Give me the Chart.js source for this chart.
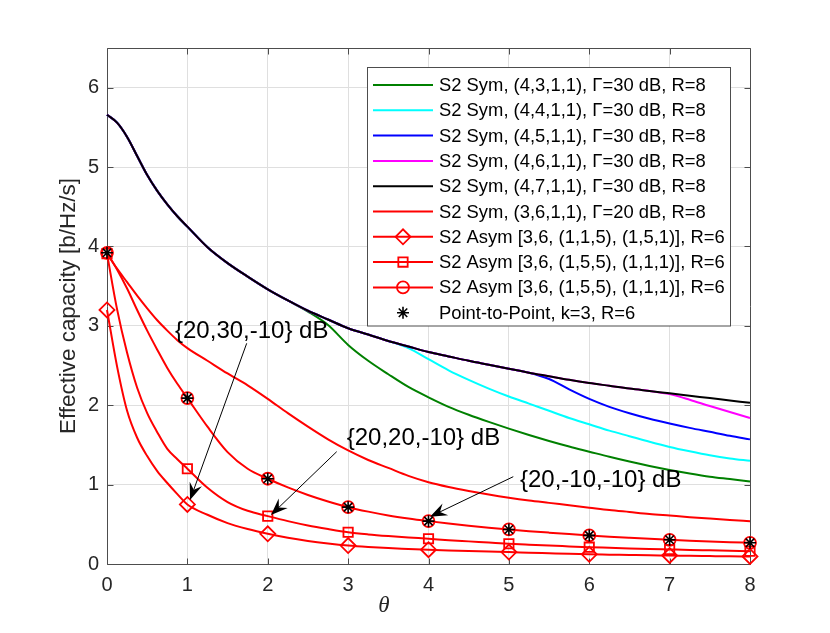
<!DOCTYPE html>
<html><head><meta charset="utf-8">
<script src="https://cdn.jsdelivr.net/npm/chart.js@4.4.1/dist/chart.umd.min.js"></script>
<style>html,body{margin:0;padding:0;background:#fff}#wrap{width:830px;height:633px;position:relative}</style>
</head><body><div id="wrap"><canvas id="c"></canvas></div>
<script>
// ---------- data ----------
const theta = [0, 0.125, 0.25, 0.375, 0.5, 0.625, 0.75, 0.875, 1,
  1.25, 1.5, 1.75, 2, 2.25, 2.5, 2.75, 3, 3.25, 3.5, 3.75, 4,
  4.25, 4.5, 4.75, 5, 5.25, 5.5, 5.75, 6, 6.25, 6.5, 6.75, 7, 7.25, 7.5, 7.75, 8];
const thetaMarkers = [0, 1, 2, 3, 4, 5, 6, 7, 8];

const sym4311 = [5.66, 5.56, 5.38, 5.14, 4.90, 4.70, 4.53, 4.38, 4.25,
  3.99, 3.79, 3.62, 3.46, 3.32, 3.18, 3.01, 2.76, 2.56, 2.39, 2.23, 2.10,
  1.98, 1.88, 1.79, 1.705, 1.625, 1.55, 1.48, 1.415, 1.35, 1.29, 1.235, 1.185, 1.14, 1.10, 1.07, 1.04];
const sym4411 = [5.66, 5.56, 5.38, 5.14, 4.90, 4.70, 4.53, 4.38, 4.25,
  3.99, 3.79, 3.62, 3.46, 3.32, 3.19, 3.08, 2.97, 2.89, 2.81, 2.72, 2.58,
  2.44, 2.32, 2.21, 2.11, 2.02, 1.93, 1.84, 1.76, 1.68, 1.61, 1.54, 1.475, 1.42, 1.37, 1.33, 1.30];
const sym4511 = [5.66, 5.56, 5.38, 5.14, 4.90, 4.70, 4.53, 4.38, 4.25,
  3.99, 3.79, 3.62, 3.46, 3.32, 3.19, 3.08, 2.97, 2.89, 2.81, 2.74, 2.67,
  2.615, 2.56, 2.51, 2.46, 2.41, 2.33, 2.20, 2.08, 1.98, 1.90, 1.83, 1.77, 1.715, 1.665, 1.615, 1.57];
const sym4611 = [5.66, 5.56, 5.38, 5.14, 4.90, 4.70, 4.53, 4.38, 4.25,
  3.99, 3.79, 3.62, 3.46, 3.32, 3.19, 3.08, 2.97, 2.89, 2.81, 2.74, 2.67,
  2.615, 2.56, 2.51, 2.46, 2.41, 2.365, 2.32, 2.28, 2.245, 2.21, 2.18, 2.14, 2.07, 1.99, 1.915, 1.84];
const sym4711 = [5.66, 5.56, 5.38, 5.14, 4.90, 4.70, 4.53, 4.38, 4.25,
  3.99, 3.79, 3.62, 3.46, 3.32, 3.19, 3.08, 2.97, 2.89, 2.81, 2.74, 2.67,
  2.615, 2.56, 2.51, 2.46, 2.41, 2.365, 2.32, 2.28, 2.245, 2.21, 2.18, 2.15, 2.12, 2.09, 2.06, 2.03];
const sym3611 = [3.91, 3.72, 3.55, 3.38, 3.22, 3.07, 2.94, 2.82, 2.72,
  2.56, 2.40, 2.25, 2.08, 1.90, 1.73, 1.57, 1.43, 1.31, 1.21, 1.11, 1.03,
  0.97, 0.92, 0.875, 0.835, 0.80, 0.77, 0.74, 0.71, 0.68, 0.655, 0.63, 0.61, 0.59, 0.572, 0.555, 0.54];
const asym115 = [3.20, 2.49, 1.93, 1.59, 1.36, 1.17, 1.02, 0.88, 0.75,
  0.62, 0.515, 0.44, 0.38, 0.33, 0.29, 0.258, 0.232, 0.214, 0.20, 0.19, 0.18,
  0.171, 0.163, 0.156, 0.15, 0.142, 0.135, 0.128, 0.122, 0.118, 0.114, 0.11, 0.107, 0.103, 0.10, 0.097, 0.095];
const asym155sq = [3.91, 3.21, 2.66, 2.22, 1.90, 1.66, 1.45, 1.32, 1.20,
  0.96, 0.78, 0.67, 0.603, 0.54, 0.485, 0.44, 0.40, 0.373, 0.352, 0.334, 0.318,
  0.30, 0.285, 0.27, 0.255, 0.243, 0.232, 0.222, 0.212, 0.204, 0.196, 0.189, 0.183, 0.177, 0.172, 0.167, 0.162];
const asym155ci = [3.92, 3.71, 3.47, 3.20, 2.94, 2.70, 2.47, 2.27, 2.09,
  1.73, 1.41, 1.20, 1.074, 0.965, 0.87, 0.788, 0.716, 0.66, 0.612, 0.573, 0.54,
  0.51, 0.483, 0.458, 0.435, 0.414, 0.395, 0.377, 0.36, 0.344, 0.33, 0.317, 0.305, 0.294, 0.284, 0.275, 0.267];
const pointToPoint = [3.92, 2.09, 1.074, 0.716, 0.54, 0.435, 0.36, 0.305, 0.267];

const xTicks = [0, 1, 2, 3, 4, 5, 6, 7, 8];
const yTicks = [0, 1, 2, 3, 4, 5, 6];

const seriesLabels = [
  'S2 Sym, (4,3,1,1), \u0393=30 dB, R=8',
  'S2 Sym, (4,4,1,1), \u0393=30 dB, R=8',
  'S2 Sym, (4,5,1,1), \u0393=30 dB, R=8',
  'S2 Sym, (4,6,1,1), \u0393=30 dB, R=8',
  'S2 Sym, (4,7,1,1), \u0393=30 dB, R=8',
  'S2 Sym, (3,6,1,1), \u0393=20 dB, R=8',
  'S2 Asym [3,6, (1,1,5), (1,5,1)], R=6',
  'S2 Asym [3,6, (1,5,5), (1,1,1)], R=6',
  'S2 Asym [3,6, (1,5,5), (1,1,1)], R=6',
  'Point-to-Point, k=3, R=6'
];
const annotationTexts = ['{20,30,-10} dB', '{20,20,-10} dB', '{20,-10,-10} dB'];
const xTitle = '\u03B8';
const yTitle = 'Effective capacity [b/Hz/s]';

// ---------- styling ----------
const FONT = "'Liberation Sans', Arial, Helvetica, sans-serif";
const AXIS = '#4d4d4d';
const TEXT = '#262626';
const RED = '#ff0000';

const pts = ys => theta.map((x, i) => ({x, y: ys[i]}));
const markerAt = r => ctx => (ctx.raw && Number.isInteger(ctx.raw.x)) ? r : 0;

const lineSpecs = [
  {data: sym4311, color: '#008000'},
  {data: sym4411, color: '#00ffff'},
  {data: sym4511, color: '#0000ff'},
  {data: sym4611, color: '#ff00ff'},
  {data: sym4711, color: '#000000'},
  {data: sym3611, color: RED},
  {data: asym115, color: RED, style: 'rectRot', r: 7.5},
  {data: asym155sq, color: RED, style: 'rect', r: 6.6},
  {data: asym155ci, color: RED, style: 'circle', r: 6}
];

const datasets = lineSpecs.map((s, i) => ({
  label: seriesLabels[i],
  data: pts(s.data),
  showLine: true,
  borderColor: s.color,
  backgroundColor: s.color,
  borderWidth: 2,
  cubicInterpolationMode: 'monotone',
  pointStyle: s.style || 'circle',
  pointRadius: s.style ? markerAt(s.r) : 0,
  pointBorderColor: s.color,
  pointBackgroundColor: 'rgba(0,0,0,0)',
  pointBorderWidth: 1.8,
  pointHoverRadius: 0,
  clip: false,
  order: 20 - i
}));
datasets.push({
  label: seriesLabels[9],
  data: thetaMarkers.map((x, i) => ({x, y: pointToPoint[i]})),
  showLine: false,
  pointStyle: 'star',
  pointRadius: 6,
  pointBorderColor: '#000',
  pointBackgroundColor: '#000',
  pointBorderWidth: 1.6,
  pointHoverRadius: 0,
  clip: false,
  order: 1
});

const legendMarkers = [null, null, null, null, null, null,
  {style: 'rectRot', r: 7.5}, {style: 'rect', r: 6.6}, {style: 'circle', r: 6}];

function drawMarker(ctx, style, r, x, y, color, lw) {
  ctx.save();
  ctx.strokeStyle = color; ctx.lineWidth = lw;
  ctx.beginPath();
  if (style === 'circle') { ctx.arc(x, y, r, 0, Math.PI * 2); }
  else if (style === 'rect') { const h = r * Math.SQRT1_2; ctx.rect(x - h, y - h, 2 * h, 2 * h); }
  else if (style === 'rectRot') { ctx.moveTo(x - r, y); ctx.lineTo(x, y - r); ctx.lineTo(x + r, y); ctx.lineTo(x, y + r); ctx.closePath(); }
  else if (style === 'star') {
    ctx.moveTo(x - r, y); ctx.lineTo(x + r, y); ctx.moveTo(x, y - r); ctx.lineTo(x, y + r);
    const d = r * Math.SQRT1_2;
    ctx.moveTo(x - d, y - d); ctx.lineTo(x + d, y + d); ctx.moveTo(x - d, y + d); ctx.lineTo(x + d, y - d);
  }
  ctx.stroke();
  ctx.restore();
}

const arrows = [
  {label: 0, tx: 0.846, ty: 2.935, x0: 1.738, y0: 2.78, x1: 1.033, y1: 0.806},
  {label: 1, tx: 2.982, ty: 1.584, x0: 2.858, y0: 1.415, x1: 2.04, y1: 0.617},
  {label: 2, tx: 5.138, ty: 1.058, x0: 5.055, y0: 1.10, x1: 4.019, y1: 0.596}
];

const al = v => Math.round(v) + 0.5;

const framePlugin = {
  id: 'frame',
  beforeDatasetsDraw(chart) {
    const {ctx, chartArea: a, scales: {x, y}} = chart;
    ctx.save();
    ctx.strokeStyle = AXIS; ctx.lineWidth = 1;
    const L = al(a.left), R = al(a.right), T = al(a.top), B = al(a.bottom);
    ctx.beginPath();
    ctx.rect(L, T, R - L, B - T);
    xTicks.forEach(v => { const p = al(x.getPixelForValue(v)); ctx.moveTo(p, B); ctx.lineTo(p, B - 6); ctx.moveTo(p, T); ctx.lineTo(p, T + 6); });
    yTicks.forEach(v => { const p = al(y.getPixelForValue(v)); ctx.moveTo(L, p); ctx.lineTo(L + 6, p); ctx.moveTo(R, p); ctx.lineTo(R - 6, p); });
    ctx.stroke();
    ctx.restore();
  },
  afterDraw(chart) {
    const {ctx, scales: {x, y}} = chart;
    ctx.save();
    // annotations with arrows
    ctx.fillStyle = '#000'; ctx.strokeStyle = '#000';
    ctx.font = '24px ' + FONT;
    ctx.textBaseline = 'middle'; ctx.textAlign = 'left';
    arrows.forEach(a => {
      ctx.fillText(annotationTexts[a.label], x.getPixelForValue(a.tx), y.getPixelForValue(a.ty));
      const sx = x.getPixelForValue(a.x0), sy = y.getPixelForValue(a.y0);
      const ex = x.getPixelForValue(a.x1), ey = y.getPixelForValue(a.y1);
      const ang = Math.atan2(ey - sy, ex - sx);
      const len = 17, hw = 6.5, notch = 11;
      const c = Math.cos(ang), s = Math.sin(ang);
      ctx.lineWidth = 1;
      ctx.beginPath(); ctx.moveTo(sx, sy);
      ctx.lineTo(ex - c * notch, ey - s * notch); ctx.stroke();
      ctx.beginPath();
      ctx.moveTo(ex, ey);
      ctx.lineTo(ex - c * len - s * hw, ey - s * len + c * hw);
      ctx.lineTo(ex - c * notch, ey - s * notch);
      ctx.lineTo(ex - c * len + s * hw, ey - s * len - c * hw);
      ctx.closePath(); ctx.fill();
    });
    // x-axis title
    ctx.font = 'italic 23px "Liberation Serif", "Times New Roman", serif';
    ctx.fillStyle = TEXT; ctx.textAlign = 'center';
    ctx.fillText(xTitle, 384, 606);
    // legend
    const bx = 367.5, by = 67.5, bw = 363, bh = 258.5;
    ctx.fillStyle = '#fff'; ctx.fillRect(bx, by, bw, bh);
    ctx.strokeStyle = AXIS; ctx.lineWidth = 1; ctx.strokeRect(bx, by, bw, bh);
    ctx.font = '18.4px ' + FONT; ctx.textAlign = 'left'; ctx.textBaseline = 'middle';
    seriesLabels.forEach((lab, i) => {
      const ry = 85 + 25.3 * i;
      if (i < 9) {
        ctx.strokeStyle = lineSpecs[i].color; ctx.lineWidth = 2;
        ctx.beginPath(); ctx.moveTo(373, ry); ctx.lineTo(433, ry); ctx.stroke();
        const m = legendMarkers[i];
        if (m) drawMarker(ctx, m.style, m.r, 403, ry, RED, 1.8);
      } else {
        drawMarker(ctx, 'star', 6, 403, ry, '#000', 1.6);
      }
      ctx.fillStyle = '#000';
      ctx.fillText(lab, 439, ry + 1);
    });
    ctx.restore();
  }
};

new Chart(document.getElementById('c'), {
  type: 'scatter',
  data: {datasets},
  options: {
    responsive: true,
    maintainAspectRatio: false,
    animation: false,
    events: [],
    layout: {padding: {left: 51, right: 80, top: 48, bottom: 0}},
    plugins: {legend: {display: false}, tooltip: {enabled: false}},
    scales: {
      x: {
        type: 'linear', min: 0, max: 8,
        afterBuildTicks: s => { s.ticks = xTicks.map(v => ({value: v})); },
        afterFit: s => { s.height = 69; },
        grid: {color: '#dfdfdf', drawTicks: false, lineWidth: 1},
        border: {display: false},
        ticks: {color: TEXT, font: {size: 20, family: FONT}, padding: 9, maxRotation: 0}
      },
      y: {
        type: 'linear', min: 0, max: 6.5,
        afterBuildTicks: s => { s.ticks = yTicks.map(v => ({value: v})); },
        afterFit: s => { s.width = 56; },
        grid: {color: '#dfdfdf', drawTicks: false, lineWidth: 1},
        border: {display: false},
        ticks: {color: TEXT, font: {size: 20, family: FONT}, padding: 8},
        title: {display: true, text: yTitle, color: TEXT, font: {size: 22.4, family: FONT}, padding: {top: 4, bottom: 4}}
      }
    }
  },
  plugins: [framePlugin]
});
</script>
</body></html>
